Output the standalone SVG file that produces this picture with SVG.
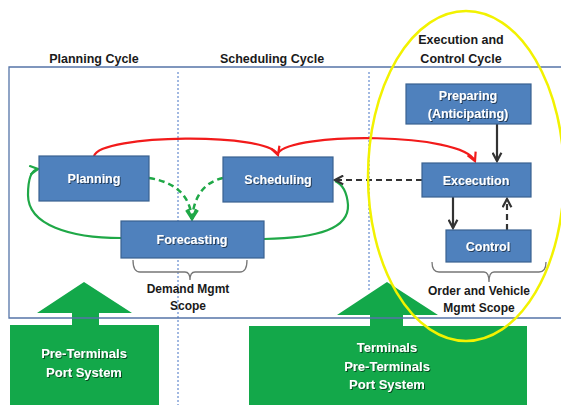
<svg xmlns="http://www.w3.org/2000/svg" width="561" height="405" viewBox="0 0 561 405">
<defs>
<style>
.node{fill:#4F81BD;stroke:#3A6290;stroke-width:1.2}
.nt{font-family:"Liberation Sans",Arial,sans-serif;font-weight:bold;font-size:12.5px;fill:#fff;text-anchor:middle}
.tt{font-family:"Liberation Sans",Arial,sans-serif;font-weight:bold;font-size:12.5px;fill:#1a1a1a;text-anchor:middle}
.st{font-family:"Liberation Sans",Arial,sans-serif;font-weight:bold;font-size:12px;fill:#1a1a1a;text-anchor:middle}
.gt{font-family:"Liberation Sans",Arial,sans-serif;font-weight:bold;font-size:13px;fill:#fff;text-anchor:middle}
.div{stroke:#4472C4;stroke-width:1;stroke-dasharray:2,2;fill:none}
.blk{stroke:#333;stroke-width:2.2;fill:none}
.blkd{stroke:#333;stroke-width:2.2;fill:none;stroke-dasharray:6,4}
.grn{stroke:#1FA847;stroke-width:2.2;fill:none}
.grnd{stroke:#1FA847;stroke-width:2.5;fill:none;stroke-dasharray:6,4}
.red{stroke:#F21B1B;stroke-width:2.2;fill:none}
.brk{stroke:#777;stroke-width:1.3;fill:none}
</style>
<filter id="sh" x="-10%" y="-30%" width="120%" height="160%"><feDropShadow dx="1" dy="1" stdDeviation="0.6" flood-color="#000" flood-opacity="0.55"/></filter>
<marker id="ab" viewBox="0 0 10 10" refX="8.5" refY="5" markerWidth="5" markerHeight="5" orient="auto" markerUnits="strokeWidth"><path d="M1,1 L8.5,5 L1,9" fill="none" stroke="#333" stroke-width="2"/></marker>
<marker id="ag" viewBox="0 0 10 10" refX="8.5" refY="5" markerWidth="5" markerHeight="5" orient="auto" markerUnits="strokeWidth"><path d="M1,1 L8.5,5 L1,9" fill="none" stroke="#1FA847" stroke-width="2"/></marker>
<marker id="ar" viewBox="0 0 10 10" refX="8.5" refY="5" markerWidth="5" markerHeight="5" orient="auto" markerUnits="strokeWidth"><path d="M1,1 L8.5,5 L1,9" fill="none" stroke="#F21B1B" stroke-width="2"/></marker>
</defs>
<rect x="0" y="0" width="561" height="405" fill="#fff"/>

<!-- green bottom arrows and boxes -->
<g id="src-left">
<path d="M10,325 H72 V313 H37 L84,282 L132,313 H99 V325 H159 V406 H10 Z" fill="#13A84A"/>
<text class="gt" x="84" y="358" filter="url(#sh)">Pre-Terminals</text>
<text class="gt" x="84" y="377" filter="url(#sh)">Port System</text>
</g>
<g id="src-right">
<path d="M249,326 H370 V315 H337 L387,282 L438,315 H403 V326 H527 V406 H249 Z" fill="#13A84A"/>
<text class="gt" x="387" y="352" filter="url(#sh)">Terminals</text>
<text class="gt" x="387" y="371" filter="url(#sh)">Pre-Terminals</text>
<text class="gt" x="387" y="389" filter="url(#sh)">Port System</text>
</g>

<!-- frame and dividers -->
<g id="frame">
<path d="M563,67 H9 V318 H563" fill="none" stroke="#5574A8" stroke-width="1.3"/>
<line class="div" x1="178" y1="72" x2="178" y2="405"/>
<line class="div" x1="369" y1="72" x2="369" y2="290"/>
</g>

<g id="titles">
<text class="tt" x="94" y="63">Planning Cycle</text>
<text class="tt" x="272" y="63">Scheduling Cycle</text>
<text class="tt" x="461" y="44">Execution and</text>
<text class="tt" x="461" y="63">Control  Cycle</text>
</g>

<!-- connectors -->
<g id="connectors">
<path class="red" d="M94,156 C100,134 270,132 278,155" marker-end="url(#ar)"/>
<path class="red" d="M278,153 C292,132 462,132 475,161" marker-end="url(#ar)"/>
<path class="grn" d="M121,238 C70,238 28,225 28,195 C28,180 31,170 38,169" marker-end="url(#ag)"/>
<path class="grn" d="M264,239 C320,238 349,228 348,205 C347,192 342,184 335,181"/>
<path class="grnd" d="M149,178 C175,182 190,195 192,219" marker-end="url(#ag)"/>
<path class="grnd" d="M223,178 C205,182 194,195 192,219" marker-end="url(#ag)"/>
<line class="blkd" x1="422" y1="180" x2="335" y2="180" marker-end="url(#ab)"/>
<line class="blk" x1="497" y1="124" x2="497" y2="161" marker-end="url(#ab)"/>
<line class="blk" x1="453" y1="197" x2="453" y2="228" marker-end="url(#ab)"/>
<line class="blkd" x1="507" y1="230" x2="507" y2="199" marker-end="url(#ab)"/>
</g>

<g id="planning"><rect class="node" x="39" y="156" width="110" height="45"/><text class="nt" x="94" y="183" filter="url(#sh)">Planning</text></g>
<g id="scheduling"><rect class="node" x="223" y="157" width="110" height="45"/><text class="nt" x="278" y="184" filter="url(#sh)">Scheduling</text></g>
<g id="forecasting"><rect class="node" x="121" y="221" width="143" height="37"/><text class="nt" x="192" y="244" filter="url(#sh)">Forecasting</text></g>
<g id="preparing"><rect class="node" x="406" y="84" width="125" height="40"/><text class="nt" x="468" y="100" filter="url(#sh)">Preparing</text><text class="nt" x="468" y="118" filter="url(#sh)">(Anticipating)</text></g>
<g id="execution"><rect class="node" x="422" y="163" width="109" height="34"/><text class="nt" x="476" y="185" filter="url(#sh)">Excecution</text></g>
<g id="control"><rect class="node" x="446" y="230" width="85" height="32"/><text class="nt" x="488" y="251" filter="url(#sh)">Control</text></g>

<g id="scopes">
<path class="brk" d="M133,260 Q133,272 140,272 H185 Q190,272 190,280 Q190,272 195,272 H240 Q247,272 247,260"/>
<text class="st" x="188" y="293">Demand Mgmt</text>
<text class="st" x="188" y="310">Scope</text>
<path class="brk" d="M432,262 Q432,272 439,272 H484 Q489,272 489,282 Q489,272 494,272 H539 Q546,272 546,262"/>
<text class="st" x="479" y="295">Order and Vehicle</text>
<text class="st" x="479" y="312">Mgmt Scope</text>
</g>

<ellipse id="focus" cx="466" cy="176" rx="98" ry="165" fill="none" stroke="#F2F200" stroke-width="2.5"/>
</svg>
